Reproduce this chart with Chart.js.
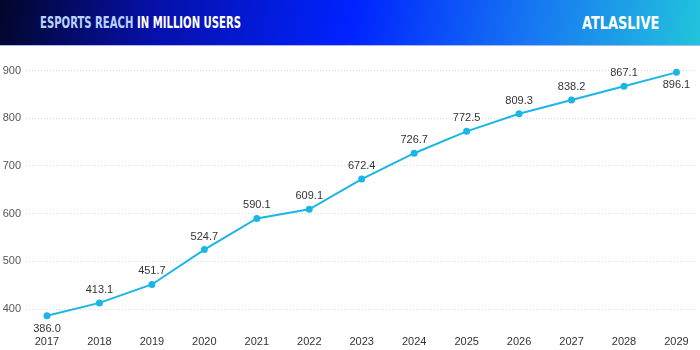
<!DOCTYPE html>
<html>
<head>
<meta charset="utf-8">
<script src="https://cdn.jsdelivr.net/npm/chart.js@4"></script>
<style>
  html, body { margin: 0; padding: 0; background: #fff; }
  #wrap { width: 700px; height: 350px; position: relative; overflow: hidden; }
  #head {
    position: absolute; left: 0; top: 0; width: 700px; height: 45px;
    background: linear-gradient(100deg, #02062a 0%, #0610a8 22%, #0022ff 50%, #1778f2 76%, #22c4dc 100%);
    border-bottom: 1px solid #aab6f2;
  }
  #title {
    position: absolute; left: 40px; top: 13px; white-space: nowrap;
    font-family: "DejaVu Sans", sans-serif; font-stretch: condensed;
    font-weight: bold; font-size: 16.5px; color: #fff;
    transform: scaleX(0.68); transform-origin: 0 0;
  }
  #title span { color: #b9d3ff; }
  #logo {
    position: absolute; left: 582px; top: 12px; white-space: nowrap;
    font-family: "DejaVu Sans", sans-serif; font-stretch: condensed;
    font-weight: bold; font-size: 18px; color: #fff;
    transform: scaleX(0.8); transform-origin: 0 0;
  }
  #box { position: absolute; left: 0; top: 46px; width: 700px; height: 304px; }
</style>
</head>
<body>
<div id="wrap">
  <div id="head">
    <div id="title"><span>ESPORTS REACH</span> IN MILLION USERS</div>
    <div id="logo">ATLASLIVE</div>
  </div>
  <div id="box"><canvas id="myChart"></canvas></div>
</div>
<script>
// years on the x axis
const years = [2017, 2018, 2019, 2020, 2021, 2022, 2023, 2024, 2025, 2026, 2027, 2028, 2029];
// reach in million users
const reach = [386.0, 413.1, 451.7, 524.7, 590.1, 609.1, 672.4, 726.7, 772.5, 809.3, 838.2, 867.1, 896.1];
// y axis tick labels
const yTicks = [400, 500, 600, 700, 800, 900];

// labels go under the point for the first and last year, above for the rest
const below = [2017, 2029];

const pointLabels = {
  id: 'pointLabels',
  afterDatasetsDraw(chart) {
    const ctx = chart.ctx;
    const meta = chart.getDatasetMeta(0);
    ctx.save();
    ctx.font = '11px "Liberation Sans", Arial, sans-serif';
    ctx.fillStyle = '#333';
    ctx.textAlign = 'center';
    ctx.textBaseline = 'middle';
    meta.data.forEach((pt, i) => {
      const dy = below.includes(years[i]) ? 13 : -13;
      ctx.fillText(reach[i].toFixed(1), pt.x, pt.y + dy);
    });
    ctx.restore();
  }
};

let ctx = document.getElementById('myChart');

let myChart = new Chart(ctx, {
  type: 'line',
  data: {
    datasets: [{
      data: years.map((y, i) => ({ x: y, y: reach[i] })),
      borderColor: '#1cb6e6',
      backgroundColor: '#1cb6e6',
      borderWidth: 2,
      pointRadius: 2.5,
      pointHoverRadius: 2.5,
      tension: 0
    }]
  },
  options: {
    responsive: true,
    maintainAspectRatio: false,
    animation: false,
    layout: { padding: { top: 5, right: 0, left: 0, bottom: 0 } },
    plugins: { legend: { display: false }, tooltip: { enabled: false } },
    scales: {
      x: {
        type: 'linear',
        min: 2016.6,
        max: 2029.363,
        afterBuildTicks: (s) => { s.ticks = years.map(v => ({ value: v })); },
        afterFit: (s) => { s.height = 17; },
        grid: { display: false, drawTicks: false },
        border: { display: false },
        ticks: {
          autoSkip: false,
          maxRotation: 0,
          padding: 2,
          color: '#333',
          font: { family: '"Liberation Sans", Arial, sans-serif', size: 11 },
          callback: (v) => String(v)
        }
      },
      y: {
        min: 350,
        max: 927,
        afterBuildTicks: (s) => { s.ticks = yTicks.map(v => ({ value: v })); },
        afterFit: (s) => { s.width = 26; },
        border: { display: false, dash: [1, 2] },
        grid: { color: '#dadada', drawTicks: false, lineWidth: 1 },
        ticks: {
          padding: 5,
          color: '#555',
          font: { family: '"Liberation Sans", Arial, sans-serif', size: 11 }
        }
      }
    }
  },
  plugins: [pointLabels]
});
</script>
</body>
</html>
